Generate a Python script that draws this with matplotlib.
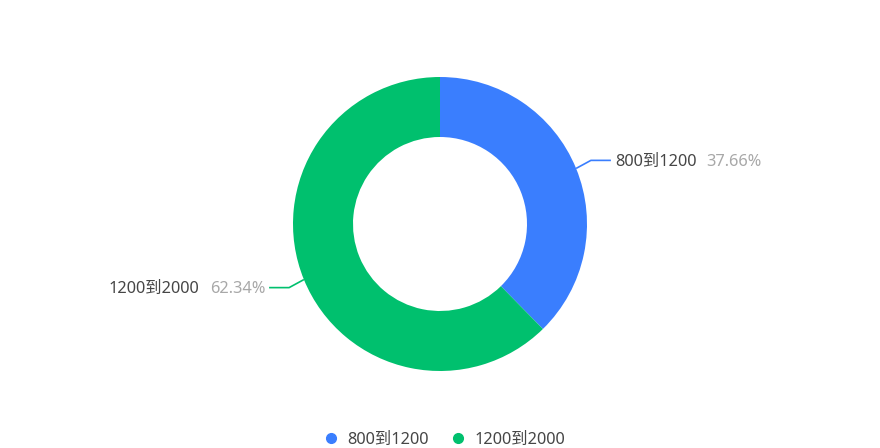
import numpy as np
import matplotlib.pyplot as plt
from matplotlib.lines import Line2D

plt.rcParams['font.family'] = ['Noto Sans', 'Noto Sans CJK SC', 'DejaVu Sans']

labels = ['800到1200', '1200到2000']
values = [37.66, 62.34]
colors = ['#3a7efe', '#00c06e']

W, H = 880, 448
fig = plt.figure(figsize=(W / 100, H / 100), dpi=100)
ax = fig.add_axes([0, 0, 1, 1])
ax.set_xlim(0, W)
ax.set_ylim(0, H)
ax.set_aspect('equal')
ax.axis('off')

cx, cy, r_out, r_in = 440, 224, 147, 87
wedges, _ = ax.pie(values, colors=colors, startangle=90, counterclock=False,
                   center=(cx, cy), radius=r_out,
                   wedgeprops=dict(width=r_out - r_in, linewidth=0))
ax.set_xlim(0, W)
ax.set_ylim(0, H)

fs = 11.8
for w, lab, val, c in zip(wedges, labels, values, colors):
    ang = np.deg2rad((w.theta1 + w.theta2) / 2)
    dx, dy = np.cos(ang), np.sin(ang)
    x0, y0 = cx + r_out * dx, cy + r_out * dy
    x1, y1 = cx + (r_out + 16) * dx, cy + (r_out + 16) * dy + np.sign(dy) * 2
    s = 1 if dx > 0 else -1
    x2 = x1 + s * 20
    ax.plot([x0, x1, x2], [y0, y1, y1], color=c, lw=1.2, solid_capstyle='butt')
    tx = x2 + s * 4
    ty = y1 - 1.5
    pct = f'{val:.2f}%'
    if s > 0:
        t = ax.text(tx, ty, lab, ha='left', va='center', fontsize=fs, color='#464646')
        fig.canvas.draw()
        bb = t.get_window_extent()
        ax.text(bb.x1 + 10, ty, pct, ha='left', va='center', fontsize=fs, color='#a8a8a8')
    else:
        t = ax.text(tx, ty, pct, ha='right', va='center', fontsize=fs, color='#a8a8a8')
        fig.canvas.draw()
        bb = t.get_window_extent()
        ax.text(bb.x0 - 10, ty, lab, ha='right', va='center', fontsize=fs, color='#464646')

handles = [Line2D([], [], marker='o', linestyle='', markersize=7, color=c) for c in colors]
fig.legend(handles, labels, loc='center', bbox_to_anchor=(0.5, 8 / H), ncol=2,
           frameon=False, fontsize=fs, handletextpad=0.0, columnspacing=0.8,
           labelcolor='#464646')

fig.savefig('out.png', dpi=100)
